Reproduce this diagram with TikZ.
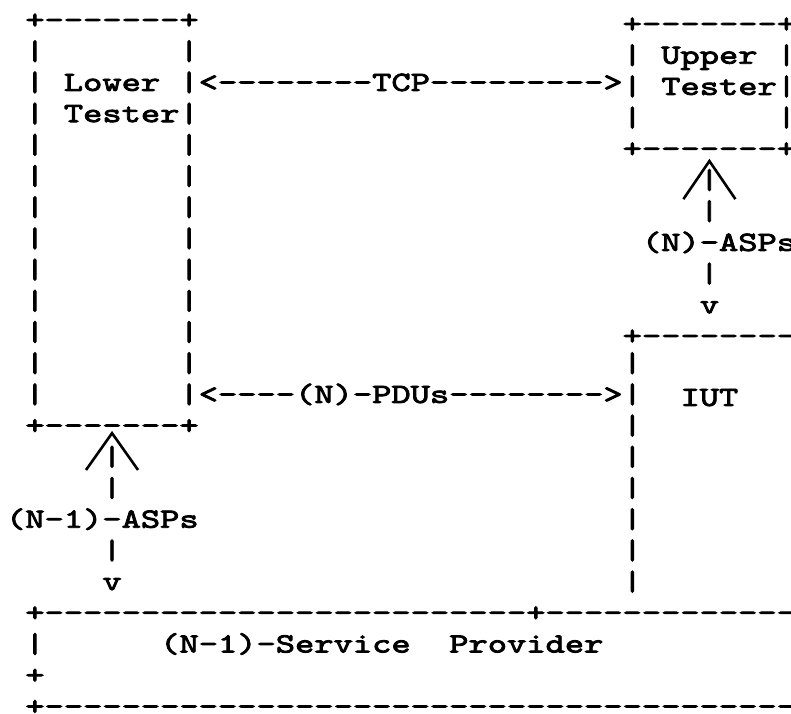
\documentclass[tikz,border=0pt]{standalone}
\usepackage{fontspec}
% Typewriter face on a fixed character grid
\newfontfamily\typewriter[Ligatures=TeXOff,FakeStretch=1.32,FakeBold=3]{lmmono10-regular.otf}
\tikzset{
  glyph/.style={font=\typewriter\fontsize{27.8}{31.2}\selectfont, inner sep=0pt, outer sep=0pt, anchor=base west, text=black},
  caret/.style={line width=2.6pt, black, line join=miter, line cap=butt},
}
\begin{document}
\begin{tikzpicture}
\useasboundingbox (0pt,0pt) rectangle (791pt,-713pt);
\clip (0pt,0pt) rectangle (791pt,-713pt);
\fill[white] (0pt,0pt) rectangle (791pt,-713pt);
% grid: x = column (left edge of cell), y = row (baseline)
\begin{scope}[shift={(6.05pt,-28.5pt)}, x=19.27pt, y=-31.2pt]

% Lower Tester box
\node[glyph] (ltTop) at (1,0) {+-------+};
\foreach \r in {1,...,12} {
  \node[glyph] (ltW\r) at (1,\r) {|};
  \node[glyph] (ltE\r) at (9,\r) {|};
}
\node[glyph] (ltName1) at (3,2) {Lower};
\node[glyph] (ltName2) at (3,3) {Tester};
\node[glyph] (ltBot) at (1,13) {+-------+};

% TCP link between the testers
\node[glyph] (tcpL) at (10,2) {<--------};
\node[glyph] (tcp)  at (19,2) {TCP};
\node[glyph] (tcpR) at (22,2) {--------->};

% right-hand column sits a little lower on the page
\begin{scope}[yshift=-4pt]
% Upper Tester box
\node[glyph] (utTop) at (32,0) {+-------+};
\foreach \r in {1,2,3} {
  \node[glyph] (utW\r) at (32,\r) {|};
  \node[glyph] (utE\r) at (40,\r) {|};
}
\node[glyph] (utName1) at (34,1) {Upper};
\node[glyph] (utName2) at (34,2) {Tester};
\node[glyph] (utBot) at (32,4) {+-------+};

% (N)-ASPs between Upper Tester and IUT
\draw[caret] (35.15,5.34) -- (36.5,4.12) -- (37.85,5.34);
\node[glyph] (nA1) at (36,5) {|};
\node[glyph] (nA2) at (36,6) {|};
\node[glyph] (nAsp) at (33,7) {(N)-ASPs};
\node[glyph] (nA3) at (36,8) {|};
\node[glyph] (nA4) at (36,9) {v};

% IUT box top
\node[glyph] (iutTop) at (32,10) {+---------};
\end{scope}

\foreach \r in {11,...,18} {
  \node[glyph] (iutW\r) at (32,\r) {|};
}
\node[glyph, yshift=-3pt] (iut) at (35,12) {IUT};

% (N)-PDUs between Lower Tester and IUT
\node[glyph] (pduL) at (10,12) {<----};
\node[glyph] (pdu)  at (15,12) {(N)-PDUs};
\node[glyph] (pduR) at (23,12) {-------->};

% (N-1)-ASPs between Lower Tester and the service provider
\draw[caret] (4.15,14.15) -- (5.5,12.97) -- (6.85,14.15);
\node[glyph] (mA1) at (5,14) {|};
\node[glyph] (mA2) at (5,15) {|};
\node[glyph] (mAsp) at (0,16) {(N-1)-ASPs};
\node[glyph] (mA3) at (5,17) {|};
\node[glyph] (mA4) at (5,18) {v};

% (N-1)-Service Provider
\node[glyph] (spTop) at (1,19) {+-------------------------+--------------};
\node[glyph] (spW1) at (1,20) {|};
\node[glyph] (spName1) at (8,20) {(N-1)-Service};
\node[glyph] (spName2) at (23,20) {Provider};
\node[glyph] (spW2) at (1,21) {+};
\node[glyph] (spBot) at (1,22) {+----------------------------------------};
\end{scope}
\end{tikzpicture}
\end{document}
